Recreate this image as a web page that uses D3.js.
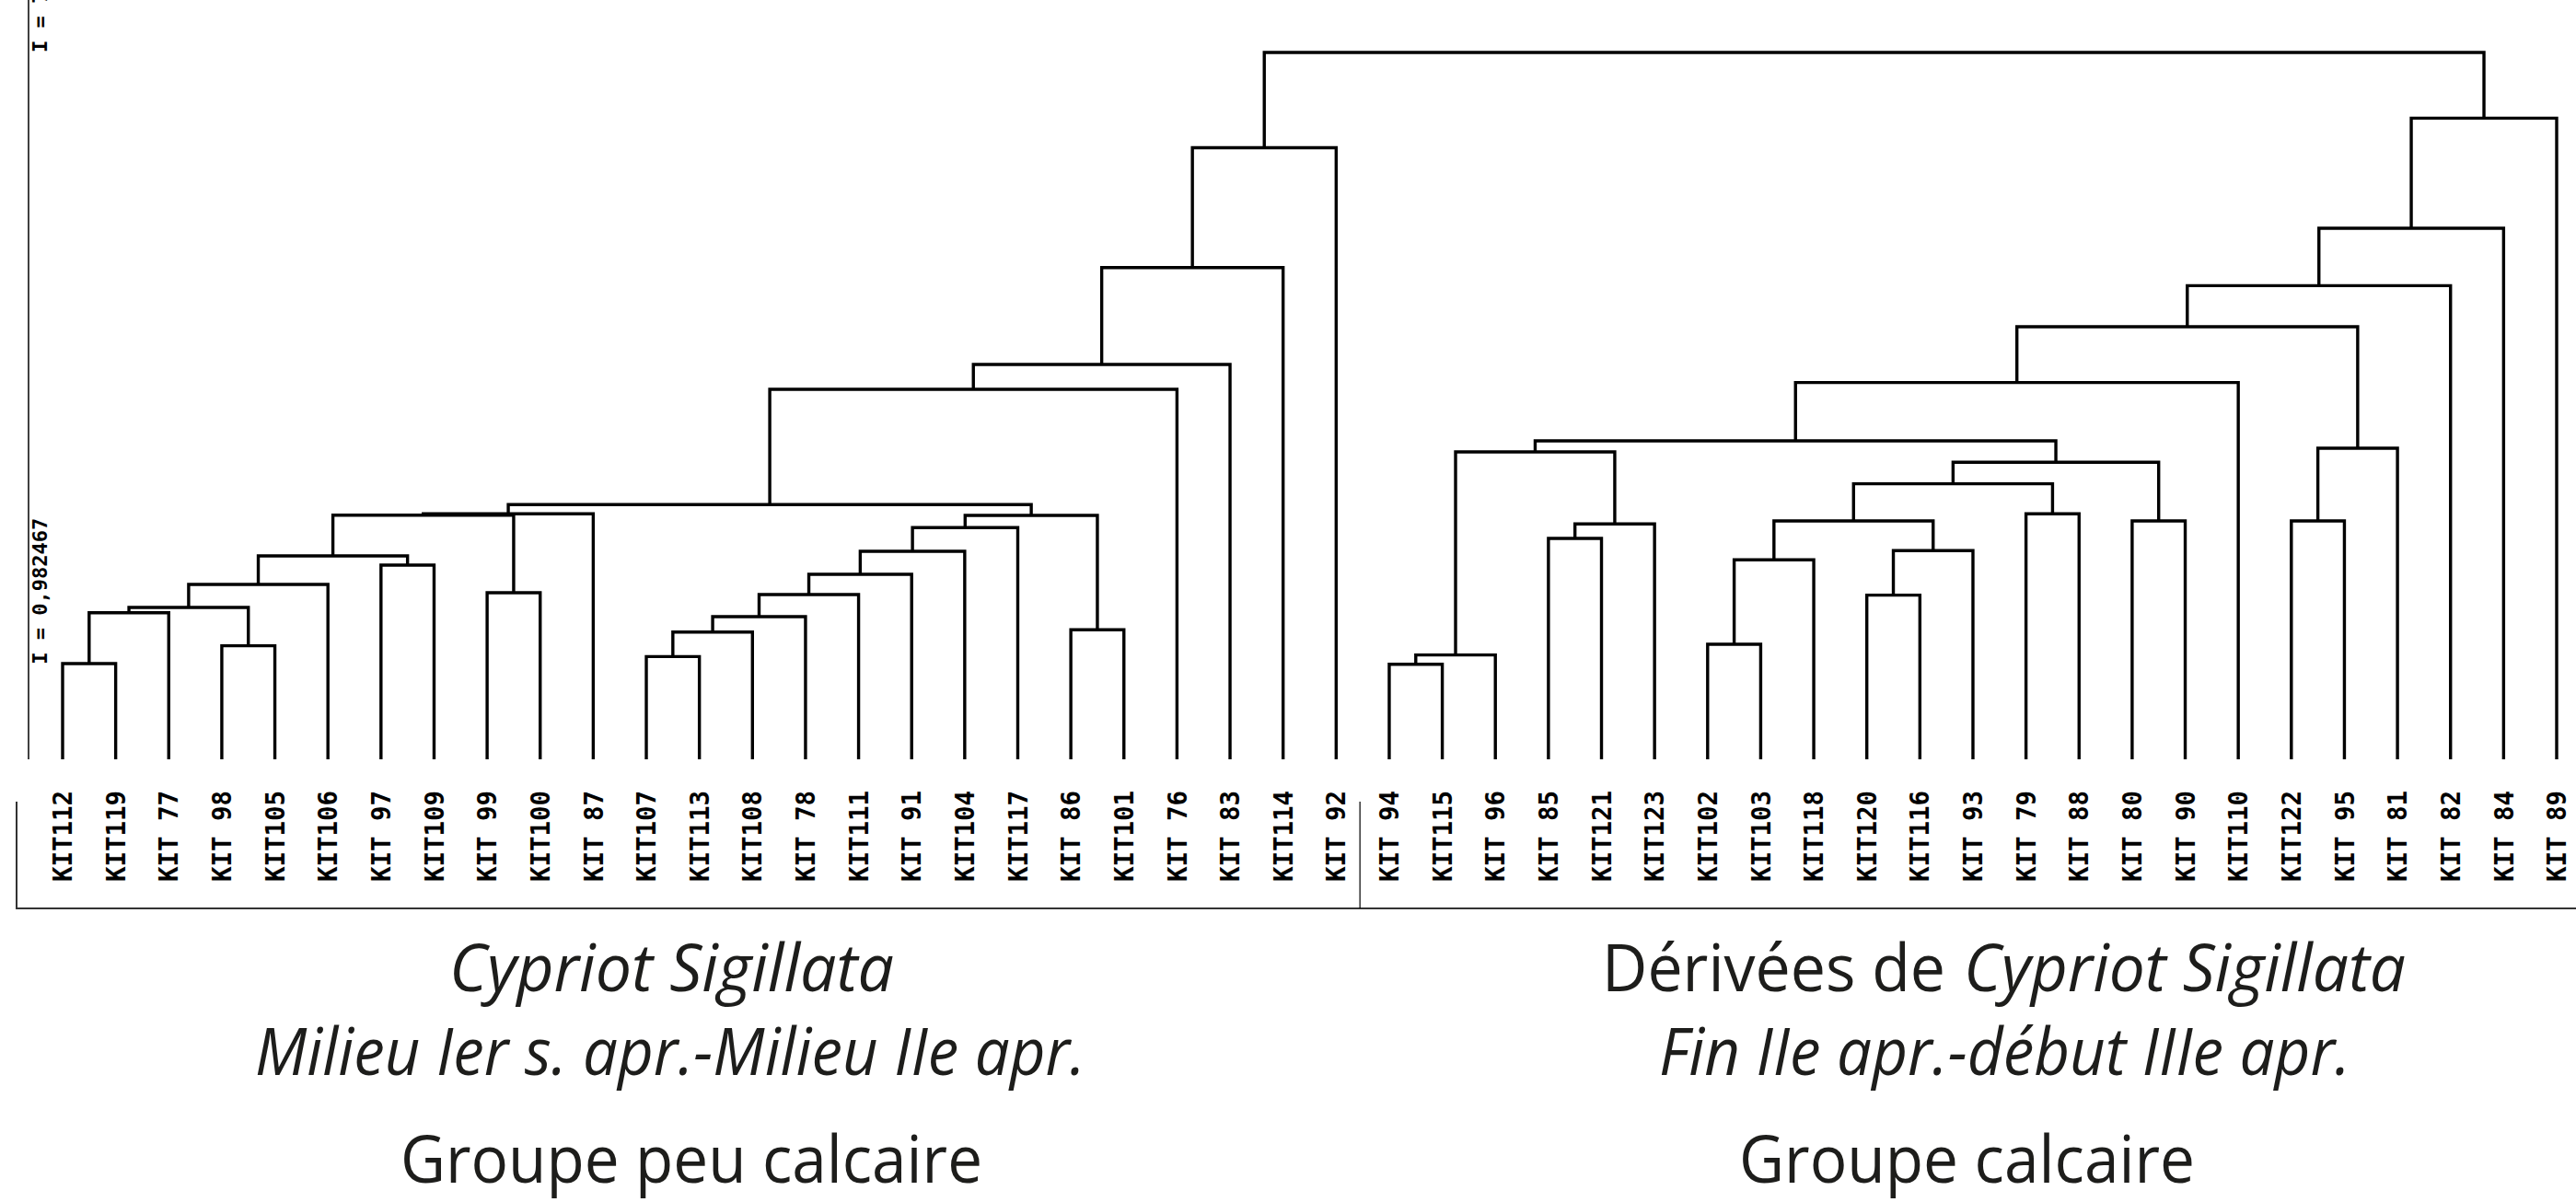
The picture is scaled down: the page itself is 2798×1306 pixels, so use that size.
<!DOCTYPE html>
<html>
<head>
<meta charset="utf-8">
<script src="https://cdn.jsdelivr.net/npm/d3@7"></script>
<style>
  body { margin: 0; background: #fff; }
  svg { display: block; background: #fff; }
  .branche { fill: none; stroke: #000; stroke-width: 3.4; stroke-linejoin: miter; }
  .etiquette { font-family: 'DejaVu Sans Mono', monospace; font-weight: bold; font-size: 29px; fill: #000; }
  .niveau { font-family: 'DejaVu Sans Mono', monospace; font-weight: bold; font-size: 22px; fill: #000; }
  .titre { font-family: 'Open Sans', sans-serif; font-size: 72px; fill: #1d1d1b; }
  .italique { font-style: italic; }
</style>
</head>
<body>
<svg width="2798" height="1306"></svg>
<script>

/* Donnees */

// ordre des individus sous le dendrogramme
let feuilles = ['KIT112', 'KIT119', 'KIT 77', 'KIT 98', 'KIT105', 'KIT106', 'KIT 97', 'KIT109',
  'KIT 99', 'KIT100', 'KIT 87', 'KIT107', 'KIT113', 'KIT108', 'KIT 78', 'KIT111', 'KIT 91',
  'KIT104', 'KIT117', 'KIT 86', 'KIT101', 'KIT 76', 'KIT 83', 'KIT114', 'KIT 92',
  'KIT 94', 'KIT115', 'KIT 96', 'KIT 85', 'KIT121', 'KIT123', 'KIT102', 'KIT103', 'KIT118',
  'KIT120', 'KIT116', 'KIT 93', 'KIT 79', 'KIT 88', 'KIT 80', 'KIT 90', 'KIT110', 'KIT122',
  'KIT 95', 'KIT 81', 'KIT 82', 'KIT 84', 'KIT 89']

// fusions successives : la fusion i cree le noeud 'n' + i
let fusions = [
  ['KIT 94', 'KIT115'], ['KIT112', 'KIT119'], ['KIT107', 'KIT113'], ['n0', 'KIT 96'],
  ['KIT 98', 'KIT105'], ['KIT102', 'KIT103'], ['n2', 'KIT108'], ['KIT 86', 'KIT101'],
  ['n6', 'KIT 78'], ['n1', 'KIT 77'], ['n9', 'n4'], ['KIT120', 'KIT116'],
  ['n8', 'KIT111'], ['KIT 99', 'KIT100'], ['n10', 'KIT106'], ['n12', 'KIT 91'],
  ['KIT 97', 'KIT109'], ['n5', 'KIT118'], ['n14', 'n16'], ['n15', 'KIT104'],
  ['n11', 'KIT 93'], ['KIT 85', 'KIT121'], ['n19', 'KIT117'], ['n21', 'KIT123'],
  ['n17', 'n20'], ['KIT 80', 'KIT 90'], ['KIT122', 'KIT 95'], ['n22', 'n7'],
  ['n18', 'n13'], ['n28', 'KIT 87'], ['KIT 79', 'KIT 88'], ['n29', 'n27'],
  ['n24', 'n30'], ['n32', 'n25'], ['n3', 'n23'], ['n26', 'KIT 81'],
  ['n34', 'n33'], ['n31', 'KIT 76'], ['n36', 'KIT110'], ['n37', 'KIT 83'],
  ['n38', 'n35'], ['n40', 'KIT 82'], ['n39', 'KIT114'], ['n41', 'KIT 84'],
  ['n42', 'KIT 92'], ['n43', 'KIT 89'], ['n44', 'n45']
]

// indice de niveau de chaque fusion
let hauteurs = [
  0.982467, 0.989, 1.062, 1.078,
  1.173, 1.189, 1.315, 1.338,
  1.474, 1.515, 1.569, 1.696,
  1.702, 1.721, 1.807, 1.912,
  2.007, 2.061, 2.102, 2.149,
  2.156, 2.283, 2.394, 2.432,
  2.463, 2.463, 2.463, 2.520,
  2.523, 2.537, 2.537, 2.632,
  2.847, 3.069, 3.177, 3.215,
  3.291, 3.823, 3.893, 4.080,
  4.470, 4.894, 5.081, 5.488,
  6.319, 6.625, 7.304
]

let productions = ['Cypriot Sigillata', 'Dérivées de Cypriot Sigillata']
let periodes = ['Milieu Ier s. apr.-Milieu IIe apr.', 'Fin IIe apr.-début IIIe apr.']
let groupes = ['Groupe peu calcaire', 'Groupe calcaire']



/* Arbre */

let noeuds = {}
feuilles.forEach(f => noeuds[f] = {nom: f, h: 0})
fusions.forEach((f, i) => {
  noeuds['n' + i] = {nom: 'n' + i, h: hauteurs[i], enfants: f.map(e => noeuds[e])}
})

let racine = d3.hierarchy(noeuds['n' + (fusions.length - 1)], d => d.enfants)



/* Echelles */

let svg = d3.select('svg')

let x = d3.scalePoint().domain(feuilles).range([68, 2777])
let y = d3.scaleLinear().domain([0, d3.max(hauteurs)]).range([825, 57])

racine.eachAfter(n => {
  n.px = n.children ? d3.mean(n.children, c => c.px) : x(n.data.nom)
  n.py = y(n.data.h)
})



/* Axe gauche */

svg.append('line')
  .attr('x1', 31).attr('x2', 31)
  .attr('y1', 0).attr('y2', y(0))
  .attr('stroke', '#000').attr('stroke-width', 1.5)

let fmt = v => 'I = ' + d3.format('.6f')(v).replace('.', ',')

// le niveau de la racine est coupe par le bord haut, comme sur l'original
svg.selectAll('text.niveau')
  .data([d3.min(hauteurs), d3.max(hauteurs)])
  .enter().append('text')
    .attr('class', 'niveau')
    .attr('transform', d => `translate(43.5, ${y(d)}) rotate(-90)`)
    .attr('dy', '0.35em')
    .text(fmt)



/* Branches */

svg.append('g').selectAll('path')
  .data(racine.descendants().filter(n => n.children))
  .enter().append('path')
    .attr('class', 'branche')
    .attr('d', n => {
      let [a, b] = n.children
      return `M${a.px},${a.py}V${n.py}H${b.px}V${b.py}`
    })



/* Etiquettes */

let baseEtiq = 958

svg.append('g').selectAll('text')
  .data(feuilles)
  .enter().append('text')
    .attr('class', 'etiquette')
    .attr('transform', d => `translate(${x(d)}, ${baseEtiq}) rotate(-90)`)
    .attr('dy', '0.35em')
    .attr('textLength', 99)
    .attr('lengthAdjust', 'spacingAndGlyphs')
    .style('white-space', 'pre')
    .text(d => d)

// cadre sous les etiquettes
let milieu = (x('KIT 92') + x('KIT 94')) / 2 - 3
let cadre = svg.append('g').attr('fill', 'none')
cadre.append('path')
  .attr('d', `M18,871V987H2798`)
  .attr('stroke', '#333').attr('stroke-width', 2)
cadre.append('line')
  .attr('x1', milieu).attr('x2', milieu)
  .attr('y1', 871).attr('y2', 987)
  .attr('stroke', '#000').attr('stroke-width', 1.2)



/* Legendes des groupes */

let lignes = [
  {x: 488, y: 1077, l: 483, t: productions[0], it: true},
  {x: 277, y: 1168, l: 902, t: periodes[0], it: true},
  {x: 435, y: 1285, l: 632, t: groupes[0], it: false},
  {x: 1740, y: 1077, l: 373, t: productions[1].replace(' ' + productions[0], ''), it: false},
  {x: 2133, y: 1077, l: 480, t: productions[0], it: true},
  {x: 1802, y: 1168, l: 751, t: periodes[1], it: true},
  {x: 1889, y: 1285, l: 495, t: groupes[1], it: false}
]

svg.append('g').selectAll('text')
  .data(lignes)
  .enter().append('text')
    .attr('class', d => 'titre' + (d.it ? ' italique' : ''))
    .attr('x', d => d.x)
    .attr('y', d => d.y)
    .attr('textLength', d => d.l)
    .attr('lengthAdjust', 'spacingAndGlyphs')
    .text(d => d.t)

</script>
</body>
</html>
